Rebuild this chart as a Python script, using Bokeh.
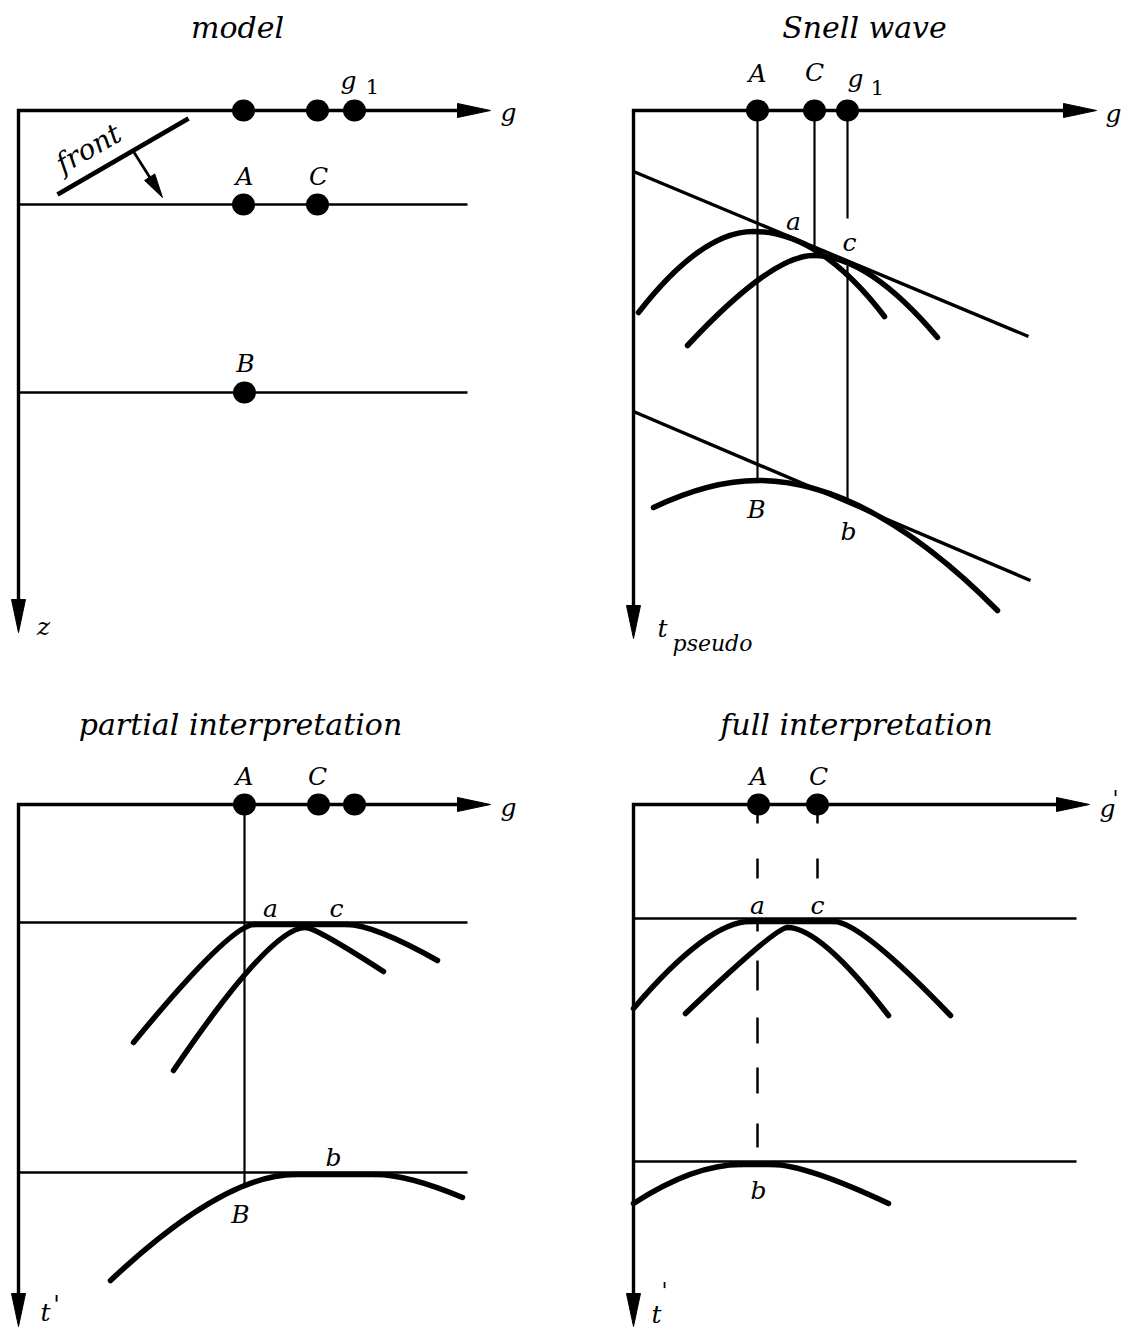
import math
from bokeh.plotting import figure
from bokeh.models import Range1d
from bokeh.embed import file_html
from bokeh.resources import INLINE
from bokeh.core.properties import value

# ============ DATA (panel-local coordinates: g to the right, t downward from the axis corner) ============
panel_names = ["model", "Snell wave", "partial interpretation", "full interpretation"]
axis_g_tip = [472, 463, 472, 456]
axis_t_tip = [522, 528, 522, 522]

# --- panel 1 : model ---
model_receivers_g = [225, 299, 336]
model_reflector_t = [94, 282]
model_reflector_len = 449
model_points_g = [225, 299, 226]
model_points_t = [94, 94, 282]
model_front_g = [39, 170]
model_front_t = [84, 8]
model_front_dir_g = [115, 144]
model_front_dir_t = [41, 87]

# --- panel 2 : Snell wave ---
snell_receivers_g = [124, 181, 214]
snell_trace_g = [124, 181, 214, 214]
snell_trace_t0 = [0, 0, 0, 155]
snell_trace_t1 = [370, 137, 108, 390]
snell_line_t0 = [61, 301]
snell_line_g1 = [395, 397]
snell_line_t1 = [226, 470]
# each curve: left end, left control, left touch, right touch, right control, right end
snell_curves_g = [[5, 68, 120, 120, 186, 251], [54, 138, 180, 180, 235, 304], [20, 77, 124, 124, 235, 364]]
snell_curves_t = [[202, 121, 121, 121, 121, 206], [235, 145, 145, 145, 145, 227], [397, 370, 370, 370, 370, 500]]

# --- panel 3 : partial interpretation ---
partial_receivers_g = [226, 300, 336]
partial_lines_t = [118, 368]
partial_lines_len = 449
partial_trace_g = [226]
partial_trace_t1 = [383]
partial_curves_g = [[115, 212, 236, 328, 355, 419], [155, 252, 287, 287, 297, 365], [92, 205, 277, 357, 389, 444]]
partial_curves_t = [[238, 120, 120, 120, 120, 156], [266, 123, 123, 123, 123, 167], [476, 370, 370, 370, 370, 393]]

# --- panel 4 : full interpretation ---
full_receivers_g = [125, 184]
full_lines_t = [114, 357]
full_lines_len = 443
full_dash_g = [124, 124, 124, 124, 124, 124, 124, 184, 184]
full_dash_t0 = [10, 54, 118, 156, 213, 263, 319, 10, 54]
full_dash_t1 = [19, 74, 127, 186, 239, 289, 343, 19, 74]
full_curves_g = [[0, 74, 117, 200, 227, 317], [52, 142, 154, 154, 187, 255], [0, 60, 108, 138, 172, 255]]
full_curves_t = [[204, 117, 117, 117, 117, 211], [209, 123, 123, 123, 123, 211], [399, 360, 360, 360, 360, 399]]

# ============ LAYOUT ============
origin_x = [18, 633, 18, 633]
origin_y = [110, 110, 804, 804]

W, H = 1122, 1328
p = figure(width=W, height=H, x_range=Range1d(0, W), y_range=Range1d(H, 0),
           output_backend="svg", toolbar_location=None,
           x_axis_location=None, y_axis_location=None, min_border=0,
           outline_line_color=None, title=None)
p.grid.visible = False
p.background_fill_color = "white"
p.border_fill_color = "white"

INK = "black"
FONT = value("DejaVu Serif")


def gx(i, g):
    return [origin_x[i] + v for v in g]


def ty(i, t):
    return [origin_y[i] + v for v in t]


def head(tx, ty_, dx, dy, L=33, w=7):
    n = math.hypot(dx, dy)
    dx, dy = dx / n, dy / n
    bx, by = tx - L * dx, ty_ - L * dy
    nx, ny = -dy, dx
    return [tx, bx + w * nx, bx - w * nx], [ty_, by + w * ny, by - w * ny]


def text(xs, ys, s, size, style="italic", angle=0.0):
    p.text(x=xs, y=ys, text=s, text_font=FONT, text_font_size=f"{size}px",
           text_font_style=style, text_align="center", text_baseline="middle",
           text_color=INK, angle=angle)


def curves(i, cg, ct, lw=5.5):
    for g, t in zip(cg, ct):
        X = gx(i, g)
        Y = ty(i, t)
        p.quadratic(x0=[X[0]], y0=[Y[0]], cx=[X[1]], cy=[Y[1]], x1=[X[2]], y1=[Y[2]],
                    line_width=lw, line_color=INK, line_cap="round")
        if X[3] > X[2]:
            p.segment(x0=[X[2]], y0=[Y[2]], x1=[X[3]], y1=[Y[3]], line_width=lw,
                      line_color=INK, line_cap="round")
        p.quadratic(x0=[X[3]], y0=[Y[3]], cx=[X[4]], cy=[Y[4]], x1=[X[5]], y1=[Y[5]],
                    line_width=lw, line_color=INK, line_cap="round")


# axes with arrowheads
hx, hy = [], []
for i in range(4):
    ox, oy = origin_x[i], origin_y[i]
    gt, tt = ox + axis_g_tip[i], oy + axis_t_tip[i]
    p.line(x=[gt - 20, ox, ox], y=[oy, oy, tt - 20], line_width=3.4, line_color=INK,
           line_join="miter")
    a, b = head(gt, oy, 1, 0)
    hx.append(a); hy.append(b)
    a, b = head(ox, tt, 0, 1)
    hx.append(a); hy.append(b)
p.patches(xs=hx, ys=hy, fill_color=INK, line_color=INK, line_width=1)

# ---------- panel 1 ----------
i = 0
p.segment(x0=gx(i, [0, 0]), y0=ty(i, model_reflector_t),
          x1=gx(i, [model_reflector_len] * 2), y1=ty(i, model_reflector_t),
          line_width=2.7, line_color=INK)
p.line(x=gx(i, model_front_g), y=ty(i, model_front_t), line_width=4.8, line_color=INK)
fx, fy = gx(i, model_front_dir_g), ty(i, model_front_dir_t)
p.line(x=[fx[0], fx[1] - 0.3 * (fx[1] - fx[0])], y=[fy[0], fy[1] - 0.3 * (fy[1] - fy[0])],
       line_width=2.7, line_color=INK)
a, b = head(fx[1], fy[1], fx[1] - fx[0], fy[1] - fy[0], L=24, w=6)
p.patch(x=a, y=b, fill_color=INK, line_color=INK)
p.ellipse(x=gx(i, model_receivers_g) + gx(i, model_points_g),
          y=ty(i, [0] * 3) + ty(i, model_points_t),
          width=23, height=22, fill_color=INK, line_color=None)

# ---------- panel 2 ----------
i = 1
p.segment(x0=gx(i, snell_trace_g), y0=ty(i, snell_trace_t0),
          x1=gx(i, snell_trace_g), y1=ty(i, snell_trace_t1), line_width=2.2, line_color=INK)
p.segment(x0=gx(i, [0, 0]), y0=ty(i, snell_line_t0),
          x1=gx(i, snell_line_g1), y1=ty(i, snell_line_t1), line_width=3.4, line_color=INK)
curves(i, snell_curves_g, snell_curves_t)
p.ellipse(x=gx(i, snell_receivers_g), y=ty(i, [0] * 3), width=23, height=22,
          fill_color=INK, line_color=None)

# ---------- panel 3 ----------
i = 2
p.segment(x0=gx(i, [0, 0]), y0=ty(i, partial_lines_t),
          x1=gx(i, [partial_lines_len] * 2), y1=ty(i, partial_lines_t),
          line_width=2.7, line_color=INK)
p.segment(x0=gx(i, partial_trace_g), y0=ty(i, [0]),
          x1=gx(i, partial_trace_g), y1=ty(i, partial_trace_t1), line_width=2.2, line_color=INK)
curves(i, partial_curves_g, partial_curves_t)
p.ellipse(x=gx(i, partial_receivers_g), y=ty(i, [0] * 3), width=23, height=22,
          fill_color=INK, line_color=None)

# ---------- panel 4 ----------
i = 3
p.segment(x0=gx(i, [0, 0]), y0=ty(i, full_lines_t),
          x1=gx(i, [full_lines_len] * 2), y1=ty(i, full_lines_t),
          line_width=2.7, line_color=INK)
p.segment(x0=gx(i, full_dash_g), y0=ty(i, full_dash_t0),
          x1=gx(i, full_dash_g), y1=ty(i, full_dash_t1), line_width=2.5, line_color=INK)
curves(i, full_curves_g, full_curves_t)
p.ellipse(x=gx(i, full_receivers_g), y=ty(i, [0] * 2), width=23, height=22,
          fill_color=INK, line_color=None)

# ============ TEXT ============
# titles
text([origin_x[k] + d for k, d in zip(range(4), [219, 231, 222, 223])],
     [origin_y[k] - d for k, d in zip(range(4), [83, 83, 80, 80])], panel_names, 30)

# panel 1
i = 0
text(gx(i, [490, 25, 330, 226, 300, 227]), ty(i, [2, 516, -30, 66, 66, 253]),
     ["g", "z", "g", "A", "C", "B"], 25)
text(gx(i, [354]), ty(i, [-24]), ["1"], 21, style="normal")
text(gx(i, [70]), ty(i, [38]), ["front"], 28, angle=math.radians(30))

# panel 2
i = 1
text(gx(i, [480, 124, 181, 222, 160, 216, 123, 215, 29]),
     ty(i, [3, -37, -38, -32, 111, 132, 399, 421, 518]),
     ["g", "A", "C", "g", "a", "c", "B", "b", "t"], 25)
text(gx(i, [244]), ty(i, [-23]), ["1"], 21, style="normal")
text(gx(i, [79]), ty(i, [533]), ["pseudo"], 22)

# panel 3
i = 2
text(gx(i, [490, 226, 299, 252, 318, 315, 222, 27]),
     ty(i, [3, -28, -28, 104, 104, 353, 410, 508]),
     ["g", "A", "C", "a", "c", "b", "B", "t"], 25)
text(gx(i, [38]), ty(i, [500]), ["'"], 24, style="normal")

# panel 4
i = 3
text(gx(i, [474, 125, 185, 124, 184, 125, 23]),
     ty(i, [4, -28, -28, 101, 101, 386, 510]),
     ["g", "A", "C", "a", "c", "b", "t"], 25)
text(gx(i, [482, 31]), ty(i, [-6, 486]), ["'", "'"], 22, style="normal")

open("out.html", "w").write(file_html(p, INLINE))
